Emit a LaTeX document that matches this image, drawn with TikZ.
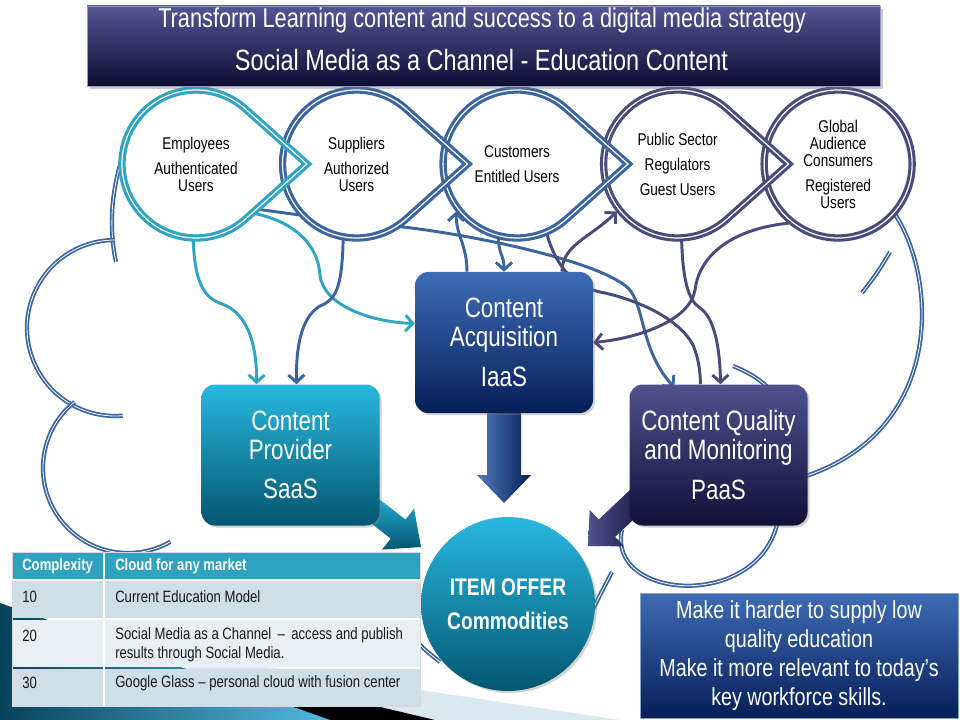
\documentclass[tikz,border=0pt]{standalone}
\usepackage{fontspec}
\setmainfont{Liberation Sans}[FakeStretch=0.8]
\usetikzlibrary{arrows.meta,positioning,calc,shadows}

\definecolor{tealc}{RGB}{46,165,195}
\definecolor{bluec}{RGB}{58,101,160}
\definecolor{slatec}{RGB}{72,76,125}
\definecolor{ttlT}{RGB}{82,86,148}
\definecolor{ttlB}{RGB}{14,14,52}
\definecolor{acqT}{RGB}{62,108,182}
\definecolor{acqB}{RGB}{6,30,88}
\definecolor{provT}{RGB}{40,184,224}
\definecolor{provB}{RGB}{3,86,112}
\definecolor{qualT}{RGB}{78,82,142}
\definecolor{qualB}{RGB}{16,16,56}
\definecolor{hdrc}{RGB}{46,163,192}
\definecolor{rowa}{RGB}{206,223,231}
\definecolor{rowb}{RGB}{232,239,243}
\definecolor{lband}{RGB}{218,232,240}
\definecolor{bandL}{RGB}{8,66,90}
\definecolor{bandR}{RGB}{82,186,222}

\pgfdeclarelayer{bg}
\pgfdeclarelayer{rings}
\pgfdeclarelayer{links}
\pgfsetlayers{bg,rings,links,main}

\begin{document}
\begin{tikzpicture}[x=0.75pt,y=-0.75pt,>={Straight Barb[length=5.5pt,width=12pt]},
 ucirc/.style={circle,minimum size=115.5pt,inner sep=0pt,align=center,font=\fontsize{12.75}{12.75}\selectfont},
 ring/.style={line width=2.3pt,double=white,double distance=0.9pt},
 cloudln/.style={draw=bluec,line width=1.3pt,double=white,double distance=0.6pt},
 link/.style={line width=2.2pt,->},
 box/.style={rounded corners=10pt,minimum width=133.5pt,minimum height=105.75pt,align=center,text=white,
  font=\fontsize{21}{21.75}\selectfont,drop shadow={opacity=0.35,shadow xshift=1.5pt,shadow yshift=-1.5pt}},
 cell/.style={anchor=west,inner sep=0pt,align=left,font=\fontsize{12.3}{14.25}\selectfont,text=black!90},
 hcell/.style={cell,text=white,font=\bfseries\fontsize{12.3}{14.25}\selectfont}]
\useasboundingbox (0,0) rectangle (960,720);

% users
\node[ucirc] (emp) at (196,164) {Employees\\[6pt]Authenticated\\Users};
\node[ucirc,right=4.5pt of emp] (sup) {Suppliers\\[6pt]Authorized\\Users};
\node[ucirc,right=4.5pt of sup] (cust) {Customers\\[6pt]Entitled Users};
\node[ucirc,right=4.5pt of cust] (pub) {Public Sector\\[6pt]Regulators\\[6pt]Guest Users};
\node[ucirc,right=4.5pt of pub] (glob) {Global\\Audience\\Consumers\\[6pt]Registered\\Users};

% services
\node[box,top color=acqT,bottom color=acqB] (acq) at (504,342.5) {Content\\Acquisition\\[8pt]IaaS};
\node[box,top color=provT,bottom color=provB] (prov) at (290.5,455) {Content\\Provider\\[8pt]SaaS};
\node[box,top color=qualT,bottom color=qualB] (qual) at (718.5,455) {Content Quality\\and Monitoring\\[8pt]PaaS};

\node[circle,minimum size=130.5pt,inner sep=0pt,align=center,text=white,top color=provT,bottom color=provB,
 font=\bfseries\fontsize{18}{18}\selectfont,drop shadow={opacity=0.35,shadow xshift=1.5pt,shadow yshift=-1.5pt}]
 (item) at (508,604) {ITEM OFFER\\[7.5pt]Commodities};

% complexity table
\fill[hdrc] (12,552) rectangle (420,579);
\fill[rowa] (12,581) rectangle (420,618);
\fill[rowb] (12,620) rectangle (420,667);
\fill[rowa] (12,669) rectangle (420,706);
\draw[white,line width=1.5pt] (104,552) -- (104,706);
\draw[black!15,line width=0.6pt] (12,552) rectangle (420,706);
\node[hcell] (hcx) at (22,566) {Complexity};
\node[hcell] (hcl) at (115,566) {Cloud for any market};
\node[cell] (r1a) at (22,597) {10};
\node[cell] (r1b) at (115,597) {Current Education Model};
\node[cell] (r2a) at (22,636) {20};
\node[cell] (r2b) at (115,645) {Social Media as a Channel \,--\, access and publish\\results through Social Media.};
\node[cell] (r3a) at (22,683) {30};
\node[cell] (r3b) at (115,683) {Google Glass -- personal cloud with fusion center};

\node[draw=bluec!60,line width=0.6pt,top color=acqT,bottom color=acqB,minimum width=238.5pt,minimum height=93.75pt,
 align=center,text=white,font=\fontsize{18.5}{21.75}\selectfont] (goal) at (799,655.5)
 {Make it harder to supply low\\quality education\\Make it more relevant to today’s\\key workforce skills.};

% title
\node[top color=ttlT,bottom color=ttlB,draw=ttlT!60,line width=0.4pt,minimum width=594.75pt,minimum height=60pt,
 drop shadow={opacity=0.4,shadow xshift=2pt,shadow yshift=-2pt}] (ttl) at (483.5,46) {};
\node[text=white,font=\fontsize{20.4}{20.4}\selectfont] (ttl1) at (482,20) {Transform Learning content and success to a digital media strategy};
\node[text=white,font=\fontsize{22}{22}\selectfont] (ttl2) at (481.5,60) {Social Media as a Channel - Education Content};

\begin{pgfonlayer}{bg}
\fill[white] (0,0) rectangle (960,720);
\fill[lband] (0,627) -- (620,720) -- (0,720) -- cycle;
\fill[black] (250,676) -- (435,720) -- (250,720) -- cycle;
\shade[left color=bandL,right color=bandR] (0,603) -- (330,720) -- (0,720) -- cycle;
% cloud
\draw[cloudln] (125,150) .. controls (112,185) and (108,225) .. (116,262);
\draw[cloudln] (115,240) arc[start angle=-90,end angle=-275,radius=88];
\draw[cloudln] (74.5,402) arc[start angle=-129,end angle=-300,radius=85];
\draw[cloudln] (888,205) .. controls (935,260) and (955,430) .. (800,478);
\draw[cloudln] (890,252) .. controls (878,272) .. (862,293);
\draw[cloudln] (733,366) .. controls (750,373) and (762,380) .. (775,395);
\draw[cloudln] (622,530) .. controls (606,600) and (760,612) .. (778,520);
\draw[cloudln] (612,572) .. controls (600,595) .. (585,625);
\draw[cloudln] (415,640) .. controls (425,650) .. (440,662);
\draw[link,bluec] (emp.-36) .. controls (300,215) and (350,222) .. (403,227) .. controls (480,236) and (600,262) .. (628,288)
 .. controls (645,305) and (640,350) .. ($(qual.north west)+(45,3)$);
\end{pgfonlayer}

\begin{pgfonlayer}{rings}
\foreach \n in {emp,sup,cust,pub,glob}
 \fill[white] (\n.center) circle[radius=77];
\draw[ring,draw=slatec] (glob.center) circle[radius=74];
\foreach \n/\c in {pub/slatec,cust/bluec,sup/bluec,emp/tealc}
 \draw[ring,draw=\c] ($(\n.center)+(111,0)$) -- ($(\n.center)+(-48:74)$) arc[start angle=-48,end angle=-312,radius=74] -- cycle;
\end{pgfonlayer}

\begin{pgfonlayer}{links}
\draw[link,tealc] (emp.-92) .. controls (195,285) and (205,298) .. (222,304) .. controls (250,314) and (257,350) .. ($(prov.north)+(-34,0)$);
\draw[link,tealc] (emp.-40) .. controls (295,222) and (318,245) .. (320,275) .. controls (323,305) and (370,322) .. ($(acq.west)+(0,-19)$);
\draw[link,bluec] (sup.-100) .. controls (342,290) and (335,300) .. (320,306) .. controls (300,318) and (296,350) .. ($(prov.north)+(6,0)$);
\draw[link,bluec] ($(acq.north)+(-37,0)$) .. controls (467,245) and (456,235) .. (cust.-142);
\draw[link,bluec] (cust.-104) .. controls (499,255) and (504,255) .. (acq.north);
\draw[line width=2.2pt,slatec] (cust.-67) .. controls (555,262) and (570,285) .. (600,292) .. controls (640,300) and (680,320) .. (693,345)
 .. controls (699,360) and (700,370) .. ($(qual.north)+(-18,0)$);
\draw[link,slatec] (pub.-87) .. controls (683,280) and (688,300) .. (700,308) .. controls (715,318) and (720,350) .. ($(qual.north)+(2,0)$);
\draw[link,slatec] (glob.-130) .. controls (740,228) and (700,250) .. (695,290) .. controls (690,320) and (640,338) .. (acq.east);
\draw[link,slatec] ($(acq.north)+(58,0)$) .. controls (562,245) and (590,238) .. (pub.-142);
% block arrows into the offer
\shade[left color=acqT!90,right color=acqB] (487,405) -- (521,405) -- (521,475) -- (531,475) -- (504,503) -- (477,475) -- (487,475) -- cycle;
\shade[top color=provT,bottom color=provB] (366.1,488.9) -- (405.5,519.6) -- (414.1,508.6) -- (421,547) -- (382.1,549.6) -- (390.7,538.6) -- (351.3,507.8) -- cycle;
\shade[left color=qualT,right color=qualB] (651.5,502.6) -- (615.1,536.9) -- (624.1,546.4) -- (588,546) -- (589.7,510) -- (598.7,519.5) -- (635.1,485.2) -- cycle;
\end{pgfonlayer}
\end{tikzpicture}
\end{document}
